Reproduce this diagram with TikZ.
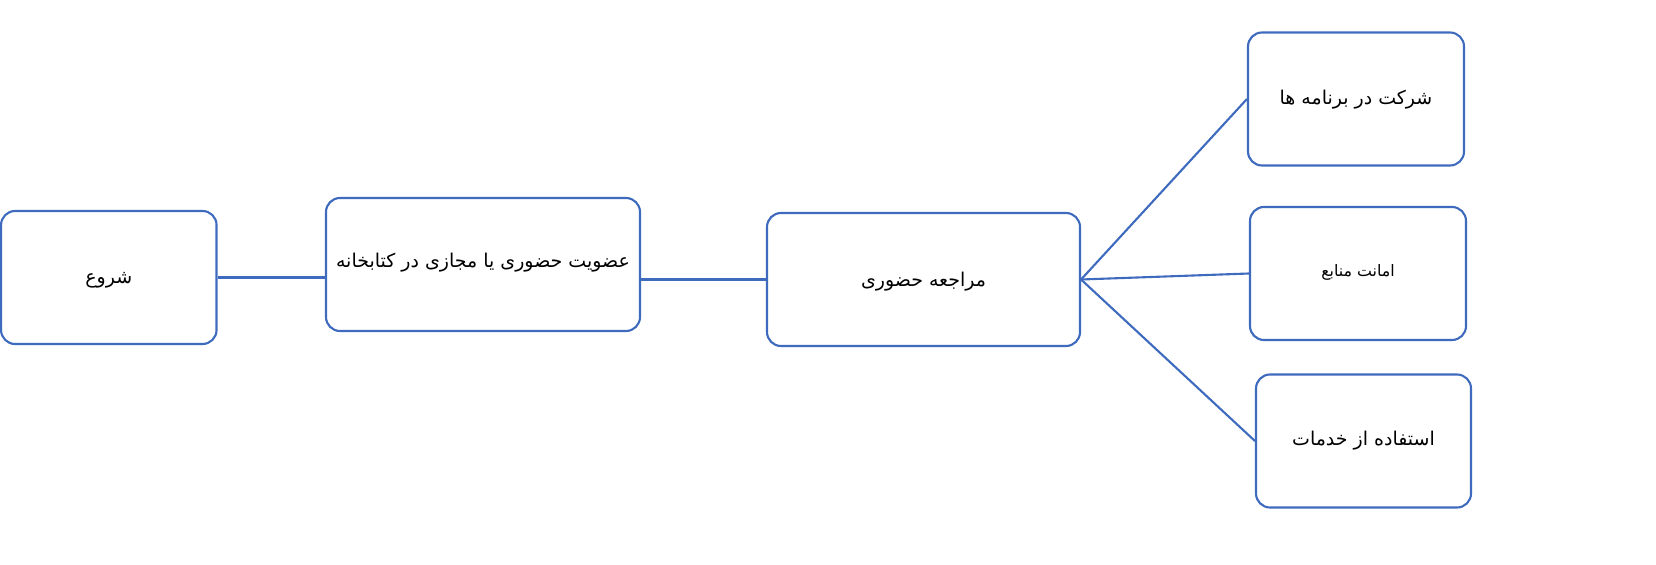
\documentclass[tikz,border=0pt]{standalone}
\usepackage{fontspec}
\newfontfamily\arabicfont[Script=Arabic]{DejaVu Sans}
\TeXXeTstate=1
\definecolor{boxblue}{HTML}{3F6BBF}
\newcommand{\rtltext}[1]{\beginR #1\endR}
\begin{document}
\begin{tikzpicture}[
  box/.style={draw=boxblue, line width=1.2pt, rounded corners=0.28cm, fill=white,
    minimum width=#1, minimum height=2.66cm, inner sep=0pt, text depth=0pt,
    font=\arabicfont\fontsize{10.8}{13}\selectfont},
  box/.default=4.31cm,
  link/.style={draw=boxblue, line width=1.2pt}
]
\path[use as bounding box, fill=white] (0,0) rectangle (33.12,11.28);
\node[box=4.31cm, text height=0.22cm] (b1) at (2.176,5.73) {\rtltext{شروع}};
\node[box=6.28cm, text height=0.12cm] (b2) at (9.66,5.99) {\rtltext{عضویت حضوری یا مجازی در کتابخانه}};
\node[box=6.26cm, text height=0.26cm] (b3) at (18.47,5.69) {\rtltext{مراجعه حضوری}};
\node[box=4.32cm, text height=0.24cm] (b4) at (27.12,9.30) {\rtltext{شرکت در برنامه ها}};
\node[box=4.32cm, text height=0.12cm, font=\arabicfont\fontsize{9}{11}\selectfont] (b5) at (27.16,5.81) {\rtltext{امانت منابع}};
\node[box=4.30cm, text height=0.16cm] (b6) at (27.27,2.46) {\rtltext{استفاده از خدمات}};
\draw[link] (b1.east) -- (b2.west |- b1.east);
\draw[link] (b2.east |- b3.west) -- (b3.west);
\draw[link] (b3.east) -- (b4.west);
\draw[link] (b3.east) -- (b5.west);
\draw[link] (b3.east) -- (b6.west);
\end{tikzpicture}
\end{document}
